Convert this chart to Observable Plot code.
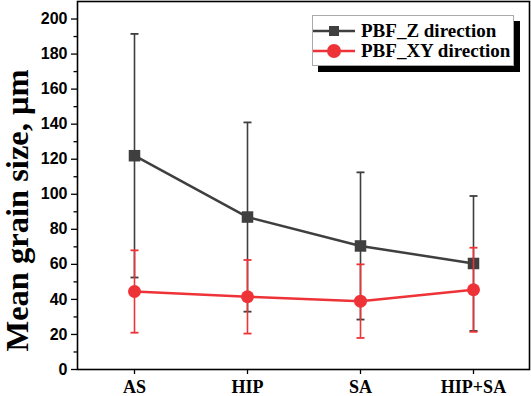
<!DOCTYPE html>
<html>
<head>
<meta charset="utf-8">
<script src="https://cdn.jsdelivr.net/npm/d3@7"></script>
<script src="https://cdn.jsdelivr.net/npm/@observablehq/plot@0.6"></script>
<style>
  html, body { margin: 0; padding: 0; background: #fff; }
  #wrap { position: relative; width: 531px; height: 396px; overflow: hidden; }
  #legend {
    position: absolute; left: 312px; top: 15px; width: 200px; height: 49px;
    border: 1px solid #aaa; background: #fff; box-shadow: 6px 6px 0 #000;
    font-family: "Liberation Serif", "Times New Roman", serif; font-weight: bold; font-size: 19px;
  }
  #legend .row { position: absolute; left: 0; height: 22px; display: flex; align-items: center; white-space: nowrap; }
  #legend svg { display: block; margin-right: 5px; }
</style>
</head>
<body>
<div id="wrap"></div>
<script>
const categories = ["AS", "HIP", "SA", "HIP+SA"];
const zMean = [122, 87, 70.5, 60.5];
const zErr = [69.5, 54, 42, 38.5];
const xyMean = [44.5, 41.5, 39, 45.5];
const xyErr = [23.5, 21, 21, 24];
const seriesNames = ["PBF_Z direction", "PBF_XY direction"];
const yMajorTicks = d3.range(0, 201, 20);
const yMinorTicks = d3.range(10, 200, 20);
const yLabel = "Mean grain size, \u03bcm";

const zColor = "#3f3f3f";
const xyColor = "#ee3338";

const zData = categories.map((c, i) => ({cat: c, m: zMean[i], lo: zMean[i] - zErr[i], hi: zMean[i] + zErr[i]}));
const xyData = categories.map((c, i) => ({cat: c, m: xyMean[i], lo: xyMean[i] - xyErr[i], hi: xyMean[i] + xyErr[i]}));

const capSymbol = {
  draw(ctx, size) {
    const w = Math.sqrt(size / Math.PI);
    ctx.moveTo(-w, 0);
    ctx.lineTo(w, 0);
  }
};

function seriesMarks(data, color, symbol, r) {
  return [
    Plot.ruleX(data, {x: "cat", y1: "lo", y2: "hi", stroke: color, strokeWidth: 1.6}),
    Plot.dot(data, {x: "cat", y: "lo", symbol: capSymbol, r: 4, stroke: color, strokeWidth: 1.8, fill: "none"}),
    Plot.dot(data, {x: "cat", y: "hi", symbol: capSymbol, r: 4, stroke: color, strokeWidth: 1.8, fill: "none"}),
    Plot.line(data, {x: "cat", y: "m", stroke: color, strokeWidth: 2.5}),
    Plot.dot(data, {x: "cat", y: "m", symbol, r, fill: color, stroke: "none"})
  ];
}

const serif = "'Liberation Serif', 'Times New Roman', serif";
const sans = "'Liberation Sans', Arial, sans-serif";

const chart = Plot.plot({
  width: 531,
  height: 396,
  marginTop: 1,
  marginBottom: 27,
  marginLeft: 77,
  marginRight: 2,
  style: {background: "#fff", color: "#000"},
  x: {type: "point", domain: categories, padding: 0.5},
  y: {domain: [0, 210]},
  marks: [
    Plot.axisY({ticks: yMajorTicks, tickSize: 6, tickPadding: 4, fontSize: 16, fontWeight: "bold", fontFamily: sans, label: null, stroke: "#000", strokeWidth: 1.3}),
    Plot.axisY({ticks: yMinorTicks, tickSize: 3.5, text: null, label: null, stroke: "#000", strokeWidth: 1.3}),
    Plot.axisX({tickSize: 5, tickPadding: 6, fontSize: 18, fontWeight: "bold", fontFamily: serif, label: null, stroke: "#000", strokeWidth: 1.3}),
    ...seriesMarks(zData, zColor, "square", 6.5),
    ...seriesMarks(xyData, xyColor, "circle", 6.5),
    Plot.frame({stroke: "#000", strokeWidth: 1.6}),
    Plot.text([yLabel], {text: d => d, frameAnchor: "left", textAnchor: "middle", rotate: -90, dx: -60, dy: 25, fontSize: 32.5, fontWeight: "bold", fontFamily: serif, fill: "#000"})
  ]
});

const wrap = document.getElementById("wrap");
wrap.appendChild(chart);

// legend
const legend = document.createElement("div");
legend.id = "legend";
const specs = [
  {name: seriesNames[0], color: zColor, shape: "square", top: 4},
  {name: seriesNames[1], color: xyColor, shape: "circle", top: 24}
];
for (const s of specs) {
  const row = document.createElement("div");
  row.className = "row";
  row.style.top = s.top + "px";
  const marker = s.shape === "square"
    ? `<rect x="16" y="6" width="10" height="10" fill="${s.color}"/>`
    : `<circle cx="21" cy="11" r="7" fill="${s.color}"/>`;
  row.innerHTML = `<svg width="43" height="22"><line x1="0" x2="42" y1="11" y2="11" stroke="${s.color}" stroke-width="2.5"/>${marker}</svg><span>${s.name}</span>`;
  legend.appendChild(row);
}
wrap.appendChild(legend);
</script>
</body>
</html>
